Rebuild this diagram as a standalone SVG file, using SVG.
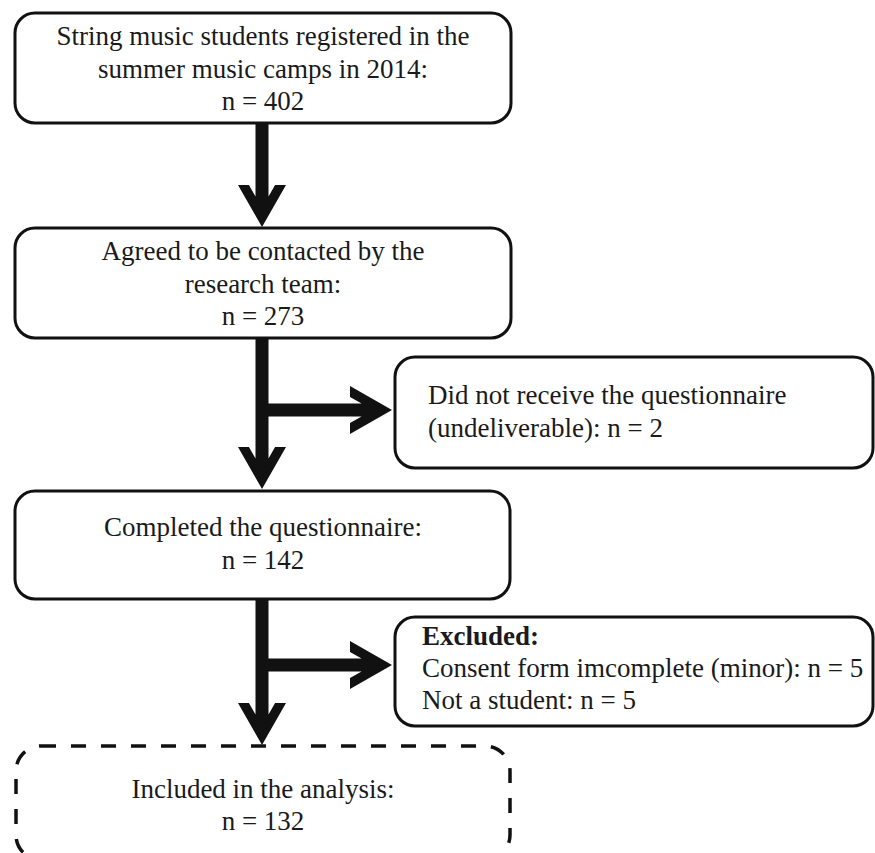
<svg xmlns="http://www.w3.org/2000/svg" width="875" height="853" viewBox="0 0 875 853">
<style>
.box{fill:#fff;stroke:#111;stroke-width:3}
.dash{fill:none;stroke:#111;stroke-width:3.5;stroke-dasharray:15 15}
.t{font-family:"Liberation Serif","Times New Roman",serif;font-size:27px;fill:#1a1a1a}
.c{text-anchor:middle}
.b{font-weight:bold}
.arr{fill:#111;stroke:none}
</style>
<rect width="875" height="853" fill="#fff"/>
<g id="connectors">
<polygon class="arr" points="255.5,123 268.5,123 268.5,196.6 275.1,185 286,185 262,227 238,185 248.9,185 255.5,196.6"/>
<polygon class="arr" points="255.5,338 268.5,338 268.5,458.6 275.1,447 286,447 262,489 238,447 248.9,447 255.5,458.6"/>
<polygon class="arr" points="268,403.5 361.6,403.5 350,396.9 350,386 392,410 350,434 350,423.1 361.6,416.5 268,416.5"/>
<polygon class="arr" points="255.5,599 268.5,599 268.5,714.6 275.1,703 286,703 262,745 238,703 248.9,703 255.5,714.6"/>
<polygon class="arr" points="268,658.5 361.6,658.5 350,651.9 350,641 392,665 350,689 350,678.1 361.6,671.5 268,671.5"/>
</g>
<g id="n1">
<rect class="box" x="15" y="13" width="496" height="110" rx="20"/>
<text class="t c" x="263" y="45">String music students registered in the</text>
<text class="t c" x="263" y="78">summer music camps in 2014:</text>
<text class="t c" x="263" y="110">n = 402</text>
</g>
<g id="n2">
<rect class="box" x="15" y="228" width="496" height="110" rx="20"/>
<text class="t c" x="263" y="260">Agreed to be contacted by the</text>
<text class="t c" x="263" y="293">research team:</text>
<text class="t c" x="263" y="325">n = 273</text>
</g>
<g id="n3">
<rect class="box" x="395" y="357" width="478" height="111" rx="20"/>
<text class="t" x="428" y="404">Did not receive the questionnaire</text>
<text class="t" x="428" y="437">(undeliverable): n = 2</text>
</g>
<g id="n4">
<rect class="box" x="15" y="491" width="495" height="108" rx="20"/>
<text class="t c" x="263" y="536">Completed the questionnaire:</text>
<text class="t c" x="263" y="569">n = 142</text>
</g>
<g id="n5">
<rect class="box" x="395" y="617" width="478" height="109" rx="20"/>
<text class="t b" x="422" y="645">Excluded:</text>
<text class="t" x="422" y="677">Consent form imcomplete (minor): n = 5</text>
<text class="t" x="422" y="709">Not a student: n = 5</text>
</g>
<g id="n6">
<rect class="dash" x="16" y="746" width="494" height="114" rx="25"/>
<text class="t c" x="263" y="798">Included in the analysis:</text>
<text class="t c" x="263" y="830">n = 132</text>
</g>
</svg>
